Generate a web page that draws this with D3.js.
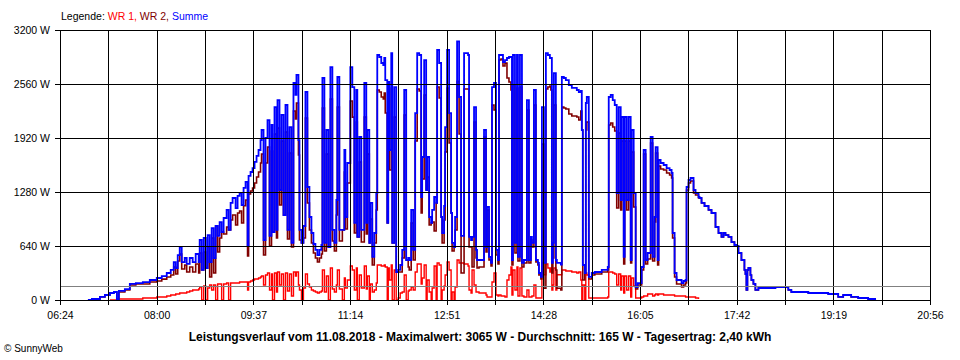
<!DOCTYPE html>
<html>
<head>
<meta charset="utf-8">
<script src="https://cdn.jsdelivr.net/npm/d3@7"></script>
<style>
body{margin:0;background:#fff;}
svg{display:block;font-family:"Liberation Sans",Arial,sans-serif;}
</style>
</head>
<body>
<svg width="960" height="360"></svg>
<script>
// minutes since midnight, Summe (W), WR 1 (W); WR 2 = Summe - WR 1
var minutes=[
412,416,424,429,434,438,441,443,449,454,
460,467,474,481,486,491,495,498,500,502,
504,506,509,511,514,517,520,523,524,526,
528,530,532,534,536,538,540,542,544,546,
548,551,553,555,557,560,562,564,566,568,
570,572,573,575,577,579,581,583,585,586,
588,590,592,594,596,597,599,601,602,604,
606,608,610,612,614,616,618,620,621,623,
624,626,628,630,632,634,636,638,640,642,
644,646,647,649,651,653,655,657,659,661,
662,664,667,669,670,672,675,677,679,681,
682,684,686,689,691,692,694,695,697,699,
701,702,704,706,708,709,710,712,713,714,
716,717,719,721,723,725,727,729,731,733,
734,736,738,740,742,744,746,747,749,751,
752,754,756,757,759,761,762,764,766,767,
769,770,772,774,776,777,779,780,782,784,
786,788,789,791,793,794,796,797,799,801,
802,804,807,809,811,812,814,816,817,819,
821,823,824,826,828,830,832,834,836,837,
838,840,842,843,845,847,849,851,852,854,
856,857,859,861,863,864,866,867,869,871,
873,875,876,877,878,879,881,882,884,886,
887,889,891,894,897,899,902,904,906,907,
908,910,911,912,914,917,920,924,927,930,
933,934,936,938,940,942,944,946,947,949,
950,952,954,956,957,959,961,963,965,967,
969,971,973,976,978,980,981,983,984,986,
989,992,995,997,998,1000,1002,1004,1007,1009,
1011,1012,1014,1016,1019,1021,1024,1025,1027,1030,
1034,1037,1041,1044,1047,1049,1051,1054,1057,1060,
1062,1064,1067,1070,1071,1072,1073,1074,1076,1077,
1079,1081,1084,1089,1094,1101,1107,1111,1114,1117,
1124,1134,1144,1154,1159,1164,1169,1177,1184,1194,
1201];

var summe=[
0,12,36,59,83,95,12,107,130,190,
201,213,237,261,284,320,356,450,379,533,
628,450,498,427,498,450,545,450,711,356,
735,379,770,450,853,498,877,759,924,806,
972,1067,830,1150,1209,1090,1233,1268,1126,1330,
1399,640,1470,1517,1564,1636,1707,1778,1896,2015,
711,1920,2133,759,2074,806,2287,830,2370,1304,
2193,1007,2311,830,2050,676,2572,2430,2667,1896,
830,676,877,2465,1339,984,794,664,593,533,
593,652,2631,676,2015,628,2761,830,676,1185,
2643,830,830,1778,984,1624,2761,2524,913,2489,
747,1932,830,2572,913,2015,676,1150,510,794,
1268,2904,2880,2809,2785,2868,2607,913,2584,1778,
2927,676,2524,332,356,415,593,2489,474,498,
474,1067,593,2216,2927,2904,1221,1695,2844,1304,
1695,984,913,1067,1221,1150,2963,2809,984,794,
1114,2050,2963,2216,1031,676,628,984,3065,2406,
759,759,2927,2927,2904,747,711,747,2287,593,
474,474,474,2015,628,1102,510,439,2524,2572,
593,474,2904,2904,2821,2844,2868,2880,2880,474,
2904,676,2904,510,2904,439,474,474,2370,474,
747,676,2489,474,439,320,273,2287,439,2927,
2904,2868,2868,439,676,2690,474,439,439,420,
2643,2631,2607,2548,2513,2513,2489,2465,2477,2015,
415,320,2335,2406,273,320,332,332,356,356,
391,2406,2430,2370,2311,1268,2287,1185,2169,510,
2169,1185,2169,474,2015,1268,154,201,201,391,
1778,474,557,1932,510,984,1813,474,1659,1624,
1600,1564,1541,1505,794,320,237,237,201,225,
237,1339,1422,1446,1304,1268,1221,1209,1150,1114,
1067,1031,865,794,747,794,770,747,687,652,
640,557,474,356,308,119,356,379,296,237,
190,119,142,142,142,154,154,154,119,95,
95,83,83,71,71,36,59,36,24,12,
0];

var wr1=[
null,null,null,null,0,0,12,12,12,12,
12,24,24,36,36,47,59,59,71,71,
83,83,83,95,107,119,119,130,154,0,
166,0,142,178,119,178,0,190,190,0,
190,201,0,201,201,201,201,213,213,213,
213,119,213,225,237,249,249,261,273,284,
178,296,320,119,308,0,320,95,332,178,
308,0,320,107,308,47,332,284,332,178,
119,0,142,308,190,154,119,107,95,83,
95,107,356,95,284,0,379,130,95,178,
356,130,0,261,142,237,403,356,119,379,
0,296,142,403,130,284,0,190,95,119,
201,415,415,403,403,415,391,0,379,237,
415,0,356,0,24,83,95,296,0,107,
119,154,119,332,427,427,190,261,415,0,
237,95,0,142,403,0,439,415,0,119,
166,296,450,356,0,95,0,154,474,439,
439,439,427,427,403,119,83,356,178,95,
95,83,83,83,59,36,36,36,213,320,
59,47,59,47,47,36,237,296,391,59,
356,119,391,47,379,47,36,36,119,36,
36,47,178,24,24,24,24,439,300,427,
379,332,379,119,178,379,119,300,300,300,
356,356,344,344,332,332,320,332,237,0,
178,0,320,296,24,24,24,24,24,24,
36,332,332,320,308,178,308,119,284,83,
284,119,284,36,261,166,24,24,24,36,
47,47,71,71,47,59,71,59,71,71,
59,59,59,59,59,47,47,47,47,47,
36,36,36,36,36,24,12,null,null,null,
null,null,null,null,null,null,null,null,null,null,
null,null,null,null,null,null,null,null,null,null,
null,null,null,null,null,null,null,null,null,null,
null,null,null,null,null,null,null,null,null,null,
null];

var yTicks=[0,640,1280,1920,2560,3200];
var timeLabels=["06:24","08:00","09:37","11:14","12:51","14:28","16:05","17:42","19:19","20:56"];
var average=165;
var titleText="Leistungsverlauf vom 11.08.2018 - Maximalwert: 3065 W - Durchschnitt: 165 W - Tagesertrag: 2,40 kWh";

var svg=d3.select('svg');
var x=d3.scaleLinear().domain([384,1256]).range([60,930]);
var y=d3.scaleLinear().domain([0,3200]).range([300,30]);
var xTicks=d3.range(19).map(function(i){return 384+i*872/18;});

var points=minutes.map(function(m,i){
    return {t:m, summe:summe[i], wr1:wr1[i], wr2:summe[i]-(wr1[i]||0)};
});

function drawSeries(key,color,width){
    var line=d3.line()
        .defined(function(d){return d[key]!==null;})
        .x(function(d){return x(d.t);})
        .y(function(d){return y(d[key]);})
        .curve(d3.curveStepAfter);

    svg.append('path')
    .datum(points)
    .attr('d',line)
    .attr('fill','none')
    .attr('stroke',color)
    .attr('stroke-width',width);
}

drawSeries('wr1','#ff0000',1.4);
drawSeries('wr2','#800000',1.6);
drawSeries('summe','#0000ff',1.8);

// grid
svg.selectAll('.vgrid').data(xTicks).enter().append('line')
.attr('x1',function(d){return Math.round(x(d))+0.5;})
.attr('x2',function(d){return Math.round(x(d))+0.5;})
.attr('y1',30).attr('y2',305)
.attr('stroke','#000');

svg.selectAll('.hgrid').data(yTicks).enter().append('line')
.attr('x1',55).attr('x2',930.5)
.attr('y1',function(d){return Math.round(y(d))+0.5;})
.attr('y2',function(d){return Math.round(y(d))+0.5;})
.attr('stroke','#000');

svg.append('line')
.attr('x1',60).attr('x2',930)
.attr('y1',Math.round(y(average))+0.5)
.attr('y2',Math.round(y(average))+0.5)
.attr('stroke','#808080');

// axes (labels)
var yAxis=svg.append('g')
.attr('transform','translate(60,0)')
.call(d3.axisLeft(y).tickValues(yTicks).tickSize(5).tickSizeOuter(0).tickPadding(5)
    .tickFormat(function(d){return d+' W';}));

var xAxis=svg.append('g')
.attr('transform','translate(0,300)')
.call(d3.axisBottom(x).tickValues(xTicks).tickSize(0).tickSizeOuter(0).tickPadding(12)
    .tickFormat(function(d,i){return i%2===0?timeLabels[i/2]:'';}));

svg.selectAll('.tick text')
.attr('font-family','"Liberation Sans",Arial,sans-serif')
.attr('font-size','10.5px')
.attr('fill','#000');
yAxis.selectAll('.tick line').attr('stroke','#000');
yAxis.select('.domain').attr('stroke','#000');
xAxis.select('.domain').attr('stroke','#000');

// legend
var legend=svg.append('text')
.attr('x',61).attr('y',20)
.attr('font-size','10.5px');
legend.append('tspan').text('Legende: ').attr('fill','#000');
legend.append('tspan').text('WR 1, ').attr('fill','#ff0000');
legend.append('tspan').text('WR 2, ').attr('fill','#800000');
legend.append('tspan').text('Summe').attr('fill','#0000ff');

svg.append('text')
.attr('x',480).attr('y',341)
.attr('text-anchor','middle')
.attr('font-size','12px')
.attr('font-weight','bold')
.text(titleText);

svg.append('text')
.attr('x',4).attr('y',352)
.attr('font-size','10px')
.text('\u00a9 SunnyWeb');
</script>
</body>
</html>
